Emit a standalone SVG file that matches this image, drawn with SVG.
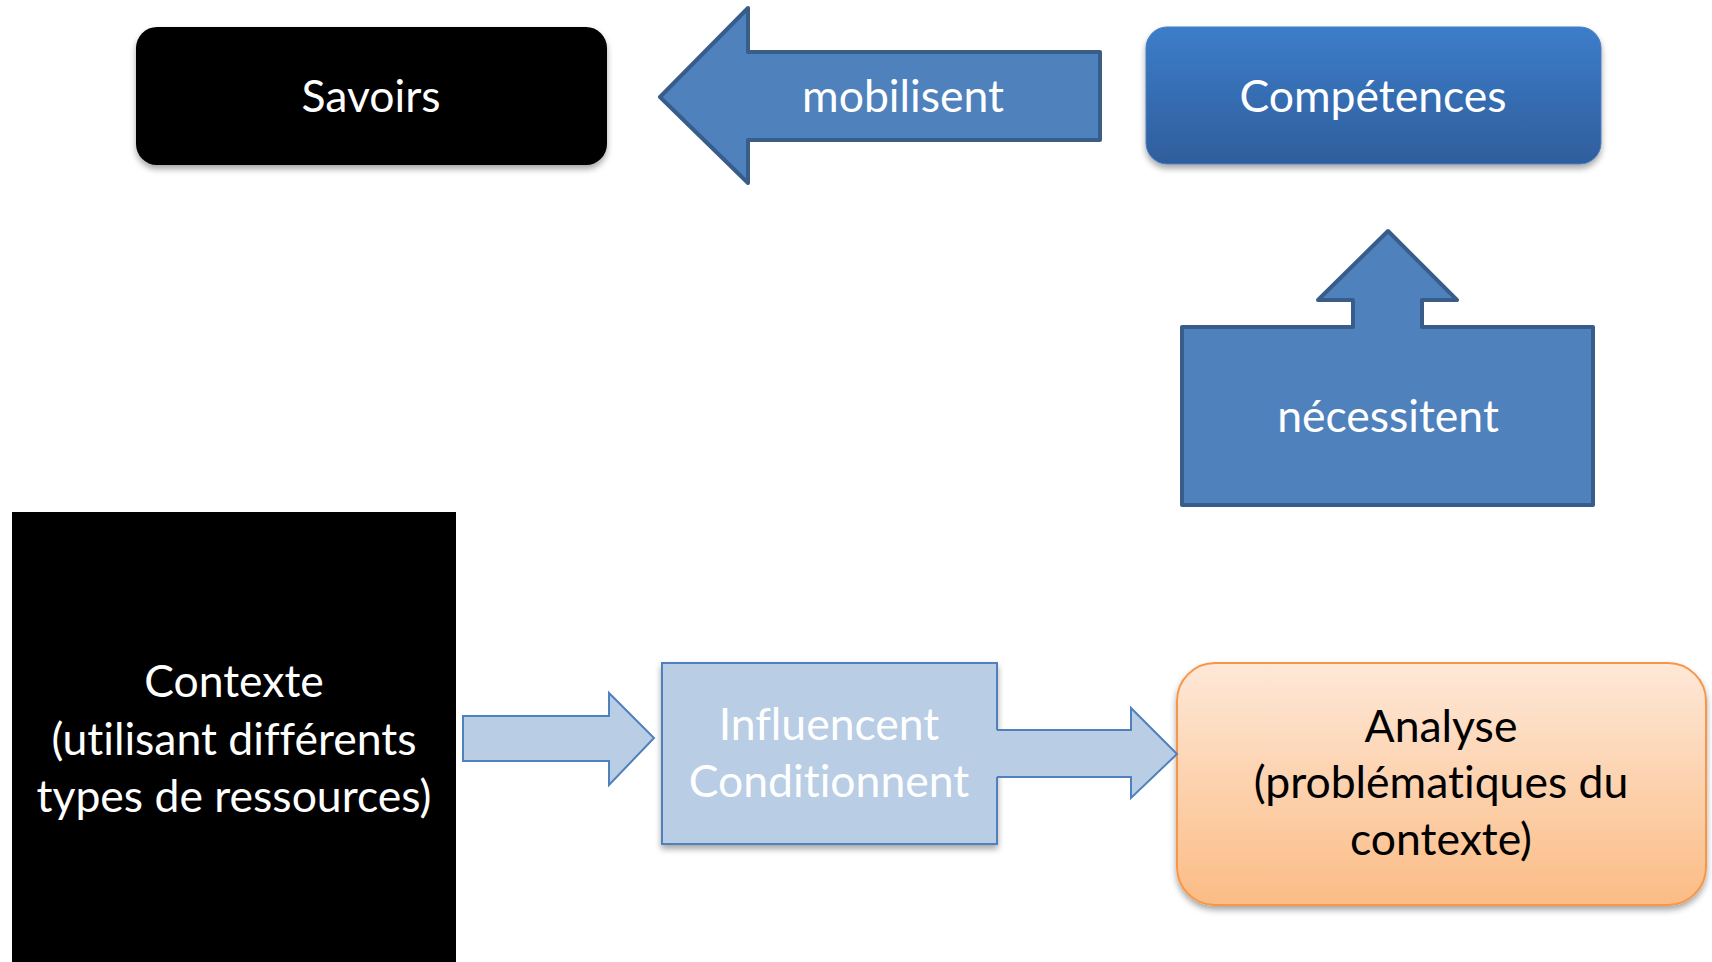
<svg xmlns="http://www.w3.org/2000/svg" width="1712" height="962" viewBox="0 0 1712 962">
<style>
  text { font-family: Lato, "Liberation Sans", sans-serif; font-size: 44.5px; text-anchor: middle; font-variant-ligatures: none; font-feature-settings: "liga" 0, "dlig" 0; }
  .w { fill: #FFFFFF; }
  .k { fill: #000000; }
  .blockarrow { fill: #4F81BD; stroke: #385D8A; stroke-width: 4; stroke-linejoin: round; }
  .lightarrow { fill: #B9CDE5; stroke: #4F81BD; stroke-width: 2; stroke-linejoin: miter; }
</style>
<defs>
  <linearGradient id="gBlue" x1="0" y1="0" x2="0" y2="1">
    <stop offset="0" stop-color="#3C7DCA"/>
    <stop offset="1" stop-color="#2F5E9C"/>
  </linearGradient>
  <linearGradient id="gOrange" x1="0" y1="0" x2="0" y2="1">
    <stop offset="0" stop-color="#FEE8D8"/>
    <stop offset="1" stop-color="#FBBC85"/>
  </linearGradient>
  <filter id="shadow" x="-10%" y="-10%" width="120%" height="130%">
    <feDropShadow dx="0" dy="4" stdDeviation="3" flood-color="#000000" flood-opacity="0.35"/>
  </filter>
</defs>
<rect width="1712" height="962" fill="#FFFFFF"/>

<g id="savoirs">
  <rect x="136" y="27" width="471" height="138" rx="21" ry="21" fill="#000000" filter="url(#shadow)"/>
  <text class="w" x="371" y="112">Savoirs</text>
</g>

<g id="mobilisent">
  <polygon class="blockarrow" points="660,97 748,8 748,52 1100,52 1100,140 748,140 748,183"/>
  <text class="w" x="903" y="112">mobilisent</text>
</g>

<g id="competences">
  <rect x="1146" y="27" width="455" height="137" rx="21" ry="21" fill="url(#gBlue)" stroke="#4A7EBE" stroke-width="1" filter="url(#shadow)"/>
  <text class="w" x="1373" y="112">Compétences</text>
</g>

<g id="necessitent">
  <polygon class="blockarrow" points="1182,327 1353,327 1353,300 1318,300 1388,231 1457,300 1422,300 1422,327 1593,327 1593,505 1182,505"/>
  <text class="w" x="1388" y="432">nécessitent</text>
</g>

<g id="contexte">
  <rect x="12" y="512" width="444" height="460" fill="#000000"/>
  <text class="w" x="234" y="697">Contexte</text>
  <text class="w" x="234" y="755">(utilisant différents</text>
  <text class="w" x="234" y="812">types de ressources)</text>
</g>

<g id="influencent">
  <rect x="662" y="663" width="335" height="181" fill="#B9CDE5" stroke="#4F81BD" stroke-width="2" filter="url(#shadow)"/>
  <text class="w" x="829" y="740">Influencent</text>
  <text class="w" x="829" y="797">Conditionnent</text>
</g>

<g id="analyse">
  <rect x="1177" y="663" width="529" height="242" rx="38" ry="38" fill="url(#gOrange)" stroke="#F79646" stroke-width="2" filter="url(#shadow)"/>
  <text class="k" x="1441" y="742">Analyse</text>
  <text class="k" x="1441" y="798">(problématiques du</text>
  <text class="k" x="1441" y="855">contexte)</text>
</g>

<g id="connectors">
  <polygon class="lightarrow" points="463,716 609,716 609,693 654,738 609,785 609,761 463,761"/>
  <polygon points="996,730 1131,730 1131,708 1177,754 1131,798 1131,777 996,777" fill="#B9CDE5" stroke="none"/>
  <polyline class="lightarrow" points="997,730 1131,730 1131,708 1177,754 1131,798 1131,777 997,777" style="fill:none"/>
</g>
</svg>
